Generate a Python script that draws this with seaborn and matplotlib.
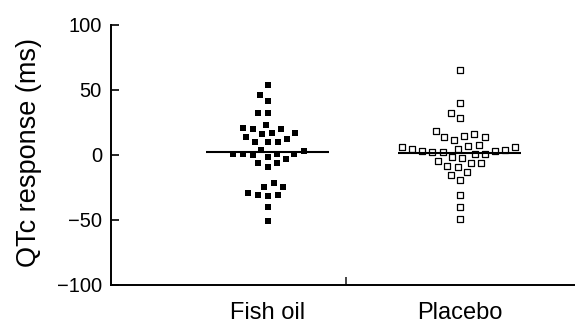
import matplotlib
matplotlib.use("Agg")
import matplotlib.pyplot as plt
from matplotlib.path import Path
from matplotlib.markers import MarkerStyle
import numpy as np
import pandas as pd
import seaborn as sns

# ---- data ----
categories = ["Fish oil", "Placebo"]
fish_oil = [54, 46, 41, 32, 32, 23, 20, 20, 21, 17, 13.5, 16, 17, 10, 10, 10, 12,
            4, 0.5, 0.5, -0.5, -1.5, 0.5, 1, 3, -3.5, -6.5, -9.5, -6.5, -22,
            -25, -31, -31.5, -31, -29, -24.5, -40, -51]
placebo = [65, 40, 32, 28.5, 16, 13.5, 11.5, 13.5, 14.5, 18, 7, 6, 4.5, 4.5, 6,
           7.5, 3, 2, 0.5, 0.5, 2, 3, 3.5, -2.5, -4.5, -6.5, -9.5, -8.5, -6.5,
           -2, -15.5, -19, -13.5, -31, -40, -49.5]
medians = [2.0, 1.7]
y_ticks = [-100, -50, 0, 50, 100]
y_label = "QTc response (ms)"

df = pd.DataFrame({
    "group": [categories[0]] * len(fish_oil) + [categories[1]] * len(placebo),
    "value": fish_oil + placebo,
})

sns.set_theme(style="ticks")
plt.rcParams["font.family"] = ["Liberation Sans", "DejaVu Sans"]


def framed_square(h):
    # square of half-size h inside an invisible unit frame (keeps swarm spacing wider)
    verts = [(-0.5, -0.5), (0.5, 0.5), (-h, -h), (h, -h), (h, h), (-h, h), (-h, -h)]
    codes = [Path.MOVETO, Path.MOVETO, Path.MOVETO, Path.LINETO,
             Path.LINETO, Path.LINETO, Path.CLOSEPOLY]
    return MarkerStyle(Path(verts, codes), joinstyle="miter")


fig = plt.figure(figsize=(5.75, 3.24), dpi=100)
ax = fig.add_axes([0.193, 0.1204, 0.807, 0.8034])

sns.swarmplot(data=df[df.group == categories[0]], x="group", y="value",
              order=categories, ax=ax, color="black", linewidth=0,
              size=6.9, marker=framed_square(0.33))
sns.swarmplot(data=df[df.group == categories[1]], x="group", y="value",
              order=categories, ax=ax, color="white", edgecolor="black",
              linewidth=0.9, size=6.2, marker=framed_square(0.32))

for i, m in enumerate(medians):
    ax.hlines(m, i - 0.32, i + 0.32, color="black", linewidth=1.5, zorder=4)

ax.set_xlim(-0.815, 1.60)
ax.set_ylim(-100, 100)
ax.set_yticks(y_ticks)
ax.set_yticklabels(["\u2212100", "\u221250", "0", "50", "100"])
ax.set_xticks([0, 1])
ax.set_xticklabels(categories)
ax.set_xticks([0.41], minor=True)

ax.tick_params(axis="y", direction="in", length=6, width=1.2, pad=6.5,
               labelsize=14.5, colors="black")
ax.tick_params(axis="x", which="major", length=0, pad=12.5, labelsize=17,
               colors="black")
ax.tick_params(axis="x", which="minor", direction="in", length=6, width=1.2)

ax.set_xlabel("")
ax.set_ylabel(y_label, fontsize=19.5, color="black")
ax.yaxis.set_label_coords(-0.149, 0.51)

for side in ["top", "right"]:
    ax.spines[side].set_visible(False)
for side in ["left", "bottom"]:
    ax.spines[side].set_linewidth(1.4)
    ax.spines[side].set_color("black")

fig.savefig("out.png", dpi=100)
